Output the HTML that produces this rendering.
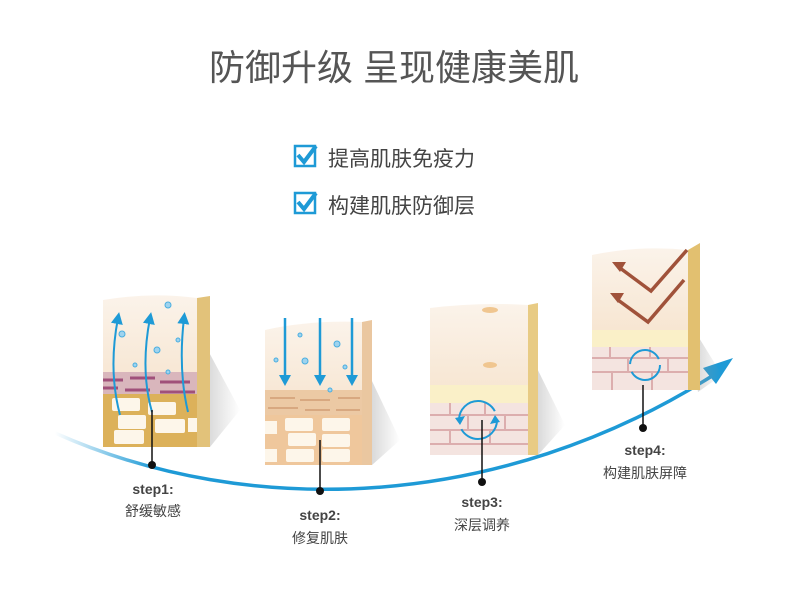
<!DOCTYPE html>
<html><head><meta charset="utf-8"><style>
body{margin:0;background:#fff;width:790px;height:606px;overflow:hidden;font-family:"Liberation Sans","Noto Sans CJK SC",sans-serif}
</style></head><body>
<svg width="790" height="606" viewBox="0 0 790 606" xmlns="http://www.w3.org/2000/svg" font-family="Liberation Sans, Noto Sans CJK SC, sans-serif">
<defs>
<linearGradient id="cv" x1="0" x2="1"><stop offset="0" stop-color="#1e9ad6" stop-opacity="0"/><stop offset="0.15" stop-color="#1e9ad6"/><stop offset="1" stop-color="#1e9ad6"/></linearGradient>
<linearGradient id="cream" x1="0" y1="0" x2="0" y2="1"><stop offset="0" stop-color="#fbf3ea"/><stop offset="1" stop-color="#f4dcc0"/></linearGradient>
<linearGradient id="sh" x1="0" x2="1"><stop offset="0" stop-color="#999" stop-opacity="0.5"/><stop offset="1" stop-color="#999" stop-opacity="0"/></linearGradient>
<marker id="ab" markerWidth="6" markerHeight="6" refX="3" refY="3" orient="auto"><path d="M0,0 L6,3 L0,6 Z" fill="#1e9ad6"/></marker>
</defs>
<text x="394" y="80" text-anchor="middle" font-size="36" fill="#555">防御升级  呈现健康美肌</text>
<g font-size="21" fill="#444">
<rect x="295" y="146" width="20" height="20" fill="none" stroke="#1e9ad6" stroke-width="2.5"/>
<path d="M298,155 l6,7 l12,-16" stroke="#1e9ad6" stroke-width="4" fill="none"/>
<text x="328" y="166">提高肌肤免疫力</text>
<rect x="295" y="193" width="20" height="20" fill="none" stroke="#1e9ad6" stroke-width="2.5"/>
<path d="M298,202 l6,7 l12,-16" stroke="#1e9ad6" stroke-width="4" fill="none"/>
<text x="328" y="213">构建肌肤防御层</text>
</g>
<!-- curve -->
<path d="M55,433 C250,520 500,510 712,376" stroke="url(#cv)" stroke-width="3.5" fill="none"/>
<path d="M733,358 L703,368 L716,384 Z" fill="#1e9ad6"/>
<!-- block1 -->
<g>
<path d="M197,330 L240,410 L210,447 Z" fill="url(#sh)"/>
<path d="M103,300 Q150,292 197,298 L197,447 L103,447 Z" fill="url(#cream)"/>
<rect x="103" y="372" width="94" height="22" fill="#d9b6bc"/>
<path d="M103,380 h20 M130,378 h25 M160,382 h30 M103,388 h15 M125,390 h25 M160,392 h35" stroke="#a0507a" stroke-width="3"/>
<rect x="103" y="394" width="94" height="53" fill="#dcb15a"/>
<g fill="#fdf6ea"><rect x="112" y="398" width="28" height="13" rx="2"/><rect x="148" y="402" width="28" height="13" rx="2"/><rect x="118" y="415" width="28" height="14" rx="2"/><rect x="155" y="419" width="30" height="14" rx="2"/><rect x="114" y="430" width="30" height="14" rx="2"/><rect x="188" y="418" width="9" height="14"/></g>
<path d="M197,298 L210,296 L210,447 L197,447 Z" fill="#e2c27a"/>
<g stroke="#1e9ad6" stroke-width="2" fill="none" marker-end="url(#ab)"><path d="M120,415 Q108,370 118,318"/><path d="M152,412 Q140,370 150,318"/><path d="M188,412 Q178,370 184,318"/></g>
<g fill="#9fd3ee" stroke="#4aaee0"><circle cx="168" cy="305" r="3"/><circle cx="122" cy="334" r="3"/><circle cx="157" cy="350" r="3"/><circle cx="135" cy="365" r="2"/><circle cx="178" cy="340" r="2"/><circle cx="168" cy="372" r="2"/></g>
</g>
<!-- block2 -->
<g>
<path d="M362,360 L400,440 L372,465 Z" fill="url(#sh)"/>
<path d="M265,330 Q310,320 362,322 L362,465 L265,465 Z" fill="url(#cream)"/>
<rect x="265" y="390" width="97" height="30" fill="#ecc9a4"/>
<path d="M270,398 h25 M300,400 h30 M338,398 h22 M268,408 h30 M305,410 h25 M336,410 h24" stroke="#d8a880" stroke-width="2"/>
<rect x="265" y="415" width="97" height="50" fill="#efc79c"/>
<g fill="#fdf6ea"><rect x="285" y="418" width="28" height="13" rx="2"/><rect x="322" y="418" width="28" height="13" rx="2"/><rect x="288" y="433" width="28" height="13" rx="2"/><rect x="322" y="434" width="28" height="13" rx="2"/><rect x="286" y="449" width="28" height="13" rx="2"/><rect x="322" y="449" width="28" height="13" rx="2"/><rect x="265" y="421" width="12" height="13"/><rect x="265" y="449" width="12" height="13"/></g>
<path d="M362,322 L372,320 L372,465 L362,465 Z" fill="#eac7a0"/>
<g stroke="#1e9ad6" stroke-width="2.5"><path d="M285,318 V378"/><path d="M320,318 V378"/><path d="M352,318 V378"/></g>
<g fill="#1e9ad6"><path d="M279,375 h12 l-6,11 Z"/><path d="M314,375 h12 l-6,11 Z"/><path d="M346,375 h12 l-6,11 Z"/></g>
<g fill="#9fd3ee" stroke="#4aaee0"><circle cx="305" cy="361" r="3"/><circle cx="337" cy="344" r="3"/><circle cx="300" cy="335" r="2"/><circle cx="345" cy="367" r="2"/><circle cx="276" cy="360" r="2"/><circle cx="330" cy="390" r="2"/></g>
</g>
<!-- block3 -->
<g>
<path d="M528,350 L565,425 L538,455 Z" fill="url(#sh)"/>
<path d="M430,308 Q480,302 528,305 L528,455 L430,455 Z" fill="url(#cream)"/>
<rect x="430" y="385" width="98" height="18" fill="#faf0c8"/>
<rect x="430" y="403" width="98" height="52" fill="#f4e4e0"/>
<path d="M430,415 h98 M430,430 h98 M430,444 h98 M450,403 v12 M485,403 v12 M468,415 v15 M505,415 v15 M450,430 v14 M490,430 v14" stroke="#dcaeae" stroke-width="2"/>
<path d="M528,305 L538,303 L538,455 L528,455 Z" fill="#e8cb84"/>
<ellipse cx="490" cy="310" rx="8" ry="3" fill="#f0c690"/><ellipse cx="490" cy="365" rx="7" ry="3" fill="#f0c690"/>
<circle cx="478" cy="420" r="19" stroke="#1e9ad6" stroke-width="2" fill="none" stroke-dasharray="50 10"/>
<path d="M455,418 l10,-2 l-5,9 Z M500,422 l-10,2 l5,-9 Z" fill="#1e9ad6"/>
</g>
<!-- block4 -->
<g>
<path d="M688,320 L722,375 L698,392 Z" fill="url(#sh)"/>
<path d="M592,255 Q640,245 688,250 L688,390 L592,390 Z" fill="url(#cream)"/>
<rect x="592" y="330" width="96" height="17" fill="#faf0c8"/>
<rect x="592" y="347" width="96" height="43" fill="#f4e4e0"/>
<path d="M592,358 h96 M592,372 h96 M610,347 v11 M650,347 v11 M628,358 v14 M668,358 v14 M612,372 v18 M652,372 v18" stroke="#dcaeae" stroke-width="2"/>
<path d="M688,250 L700,243 L700,390 L688,390 Z" fill="#e2c070"/>
<g stroke="#a0523a" stroke-width="3.5" fill="none"><path d="M687,250 L651,291 L620,268"/><path d="M684,280 L648,322 L618,300"/></g>
<path d="M612,262 l14,0 l-6,10 Z M610,293 l14,0 l-6,10 Z" fill="#a0523a"/>
<circle cx="645" cy="365" r="15" stroke="#1e9ad6" stroke-width="2" fill="none" stroke-dasharray="40 8"/>
</g>
<!-- connectors -->
<g stroke="#111" stroke-width="1.5"><path d="M152,410 V465"/><path d="M320,440 V491"/><path d="M482,420 V482"/><path d="M643,385 V428"/></g>
<g fill="#111"><circle cx="152" cy="465" r="4"/><circle cx="320" cy="491" r="4"/><circle cx="482" cy="482" r="4"/><circle cx="643" cy="428" r="4"/></g>
<g text-anchor="middle" fill="#444">
<text x="153" y="494" font-size="14" font-weight="bold">step1:</text><text x="153" y="516" font-size="14">舒缓敏感</text>
<text x="320" y="520" font-size="14" font-weight="bold">step2:</text><text x="320" y="543" font-size="14">修复肌肤</text>
<text x="482" y="507" font-size="14" font-weight="bold">step3:</text><text x="482" y="530" font-size="14">深层调养</text>
<text x="645" y="455" font-size="14" font-weight="bold">step4:</text><text x="645" y="478" font-size="14">构建肌肤屏障</text>
</g>
</svg>
</body></html>
